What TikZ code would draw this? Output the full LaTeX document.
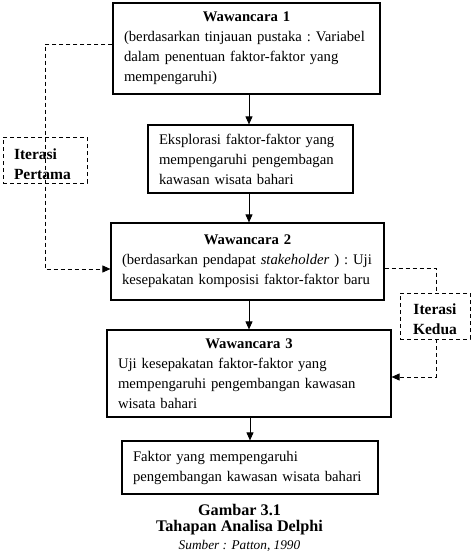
\documentclass[tikz,border=0pt]{standalone}
\usepackage{fontspec}
\setmainfont{Liberation Serif}
\usetikzlibrary{arrows.meta,calc}
\tikzset{
  box/.style={draw, line width=1.2pt, rectangle, inner xsep=11pt, inner ysep=0pt, align=left,
    font=\fontsize{14.7}{20}\selectfont\frenchspacing},
  itbox/.style={draw, dash pattern=on 4pt off 3pt, line width=0.9pt, rectangle, inner sep=0pt,
    font=\fontsize{15.5}{20}\selectfont\bfseries},
  flow/.style={line width=0.9pt, -{Triangle[length=8pt,width=7pt]}},
  iter/.style={line width=0.9pt, dash pattern=on 4pt off 3pt},
  iterarrow/.style={iter, -{Triangle[length=8pt,width=7pt]}},
  captxt/.style={inner sep=0pt, font=\fontsize{16.2}{18}\selectfont\bfseries}
}
\newcommand{\ttl}[2]{\makebox[#1][c]{\bfseries #2}}
\begin{document}
\begin{tikzpicture}[x=1pt,y=-1pt]
\useasboundingbox (0,0) rectangle (474,555);
% boxes
\node[box, minimum width=267pt, minimum height=91pt, text width=245pt] (b1) at (246.5,48.5)
  {\ttl{245pt}{Wawancara 1}\\\mbox{(berdasarkan tinjauan pustaka : Variabel}\\\mbox{dalam penentuan faktor-faktor yang}\\mempengaruhi)};
\node[box, minimum width=205pt, minimum height=68pt, text width=183pt] (b2) at (250.5,159)
  {\mbox{Eksplorasi faktor-faktor yang}\\\mbox{mempengaruhi pengembagan}\\\mbox{kawasan wisata bahari}};
\node[box, minimum width=273pt, minimum height=77pt, text width=251pt] (b3) at (247.5,261.5)
  {\ttl{251pt}{Wawancara 2}\\\mbox{(berdasarkan pendapat \textit{stakeholder} ) : Uji}\\\mbox{kesepakatan komposisi faktor-faktor baru}};
\node[box, minimum width=284pt, minimum height=87pt, text width=262pt] (b4) at (249,373.5)
  {\ttl{262pt}{Wawancara 3}\\\mbox{Uji kesepakatan faktor-faktor yang}\\\mbox{mempengaruhi pengembangan kawasan}\\wisata bahari};
\node[box, minimum width=256pt, minimum height=53pt, text width=234pt] (b5) at (250,467.5)
  {\mbox{Faktor yang mempengaruhi}\\\mbox{pengembangan kawasan wisata bahari}};
% iteration boxes
\node[itbox, minimum width=84pt, minimum height=46pt, text width=62pt, align=left] (ip) at (45,160)
  {\rule{0pt}{20pt}Iterasi\\Pertama};
\node[itbox, minimum width=70pt, minimum height=46pt, align=center] (ik) at (435,316)
  {\rule{0pt}{18pt}Iterasi\\Kedua};
% flow arrows
\coordinate (ax) at (249,0);
\draw[flow] (b1.south -| ax) -- (b2.north -| ax);
\draw[flow] (b2.south -| ax) -- (b3.north -| ax);
\draw[flow] (b3.south -| ax) -- (b4.north -| ax);
\draw[flow] (b4.south -| b5.north) -- (b5.north);
% iteration 1
\coordinate (p1) at (45,44);
\coordinate (p2) at (45,269);
\draw[iterarrow] (b1.west |- p1) -- (p1) -- (p2) -- (p2 -| b3.west);
% iteration 2
\coordinate (q1) at (436,268);
\coordinate (q2) at (436,377);
\draw[iter] (b3.east |- q1) -- (q1) -- (q1 |- ik.north);
\draw[iterarrow] (q2 |- ik.south) -- (q2) -- (q2 -| b4.east);
% caption
\node[captxt] (c1) at (239.5,510) {Gambar 3.1};
\node[captxt] (c2) at (239.5,528) {Tahapan Analisa Delphi};
\node[inner sep=0pt, font=\fontsize{13.3}{15}\selectfont\itshape] (c3) at (239.5,546) {Sumber : Patton, 1990};
\end{tikzpicture}
\end{document}
